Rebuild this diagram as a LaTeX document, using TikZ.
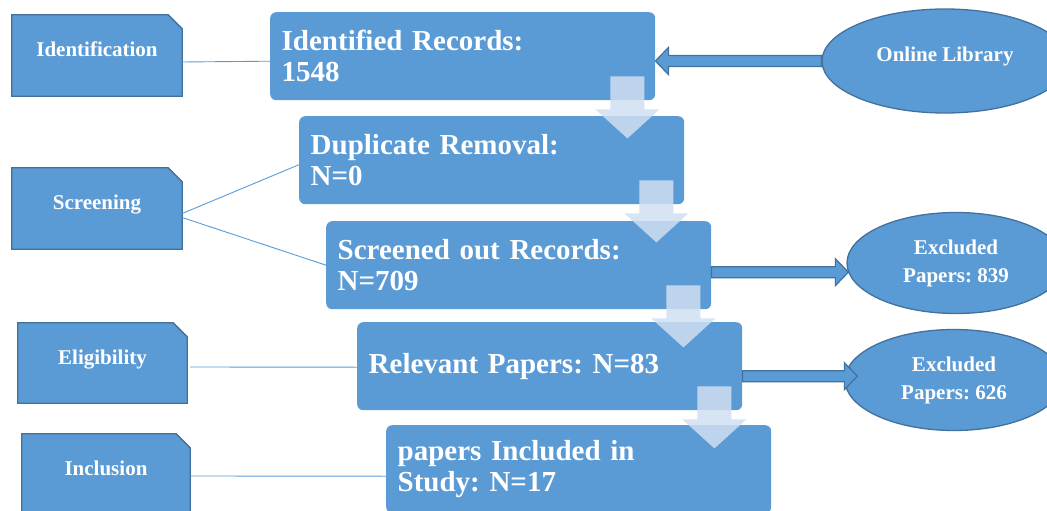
\documentclass[tikz,border=0pt]{standalone}
\usepackage{fontspec}
\setmainfont{Liberation Serif}
\usetikzlibrary{calc,shapes.geometric,backgrounds}
\frenchspacing

\definecolor{boxblue}{HTML}{5B9BD5}
\definecolor{edgeblue}{HTML}{41719C}
\definecolor{flowblue}{HTML}{D0DFF2}

\tikzset{
  stagebox/.style={rectangle, minimum width=170pt, minimum height=81pt, inner sep=0pt,
    text=white, text depth=12pt, font=\bfseries\fontsize{21}{25}\selectfont},
  stageframe/.style={draw=edgeblue, line width=1.3pt, fill=boxblue},
  recbox/.style={rectangle, rounded corners=6pt, fill=boxblue, anchor=north west,
    minimum width=385pt, minimum height=88pt, text width=362pt, inner xsep=11.5pt,
    align=left, text=white, font=\bfseries\fontsize{29}{31}\selectfont},
  srcbox/.style={ellipse, draw=edgeblue, line width=1.3pt, fill=boxblue, text=white,
    align=center, font=\bfseries\fontsize{21}{28}\selectfont},
  link/.style={draw=boxblue, line width=0.9pt},
  blockarrow/.style={draw=edgeblue, line width=1.2pt, fill=boxblue},
  flowarrow/.style={fill=flowblue, fill opacity=0.85},
}

% box with the upper right corner cut off
\newcommand{\snipframe}[1]{%
  \draw[stageframe] (#1.south west) -- (#1.north west) -- ([xshift=-14pt]#1.north east)
    -- ([yshift=-14pt]#1.north east) -- (#1.south east) -- cycle;}

% wide arrow: start, tip, signed head length
\newcommand{\sidearrow}[3]{%
  \draw[blockarrow] let \p1=(#1), \p2=(#2) in
    (\x1,\y1+5.5pt) -- (\x2+#3,\y1+5.5pt) -- (\x2+#3,\y1+13.5pt) -- (\x2,\y1)
    -- (\x2+#3,\y1-13.5pt) -- (\x2+#3,\y1-5.5pt) -- (\x1,\y1-5.5pt) -- cycle;}

% pale arrow down to the next record box
\newcommand{\downflow}[1]{%
  \fill[flowarrow] let \p1=(#1.south east) in
    (\x1-45pt,\y1+24pt) -- (\x1-11pt,\y1+24pt) -- (\x1-11pt,\y1-9pt) -- (\x1+4pt,\y1-9pt)
    -- (\x1-28pt,\y1-38pt) -- (\x1-60pt,\y1-9pt) -- (\x1-45pt,\y1-9pt) -- cycle;}

\begin{document}
\begin{tikzpicture}[x=1pt,y=-1pt]
  \useasboundingbox (0,0) rectangle (1047,511);

  % stages
  \node[stagebox] (ident) at (97,55.5) {Identification};
  \node[stagebox] (screen) at (97,208.5) {Screening};
  \node[stagebox, minimum width=169pt, minimum height=80pt] (elig) at (102.5,363) {Eligibility};
  \node[stagebox, minimum width=168pt, minimum height=80pt] (incl) at (106,474) {Inclusion};

  \begin{pgfonlayer}{background}
    \snipframe{ident}
    \snipframe{screen}
    \snipframe{elig}
    \snipframe{incl}
  \end{pgfonlayer}

  % records
  \node[recbox] (idrec) at (270,12) {Identified Records:\\1548};
  \node[recbox] (dup) at (299,116) {Duplicate Removal:\\N=0};
  \node[recbox] (scr) at (326,221) {Screened out Records:\\N=709};
  \node[recbox] (rel) at (357,322) {Relevant Papers: N=83};
  \node[recbox] (inc) at (386,425) {papers Included in\\Study: N=17};

  % sources and exclusions
  \node[srcbox, minimum width=246pt, minimum height=104pt, text depth=14pt] (lib) at (945,61) {Online Library};
  \node[srcbox, minimum width=218pt, minimum height=101pt] (exc1) at (956,263) {Excluded\\Papers: 839};
  \node[srcbox, minimum width=218pt, minimum height=101pt] (exc2) at (954,380) {Excluded\\Papers: 626};

  \draw[link] ([yshift=-6.5pt]ident.east) -- ([yshift=-5pt]idrec.west);
  \draw[link] ([yshift=-5pt]screen.east) -- ([yshift=-4.5pt]dup.west);
  \draw[link] ([yshift=-9pt]screen.east) -- (scr.west);
  \draw[link] ([xshift=3pt,yshift=-4pt]elig.east) -- ([yshift=-1pt]rel.west);
  \draw[link] ([xshift=1pt,yshift=-2pt]incl.east) -- ([yshift=-7pt]inc.west);

  \coordinate (out1) at ([yshift=-7pt]scr.east);
  \coordinate (in1) at ([xshift=2pt]exc1.west);
  \coordinate (out2) at ([yshift=-10pt]rel.east);
  \coordinate (in2) at ([xshift=13pt]exc2.west);

  \sidearrow{lib.west}{idrec.east |- lib.west}{13pt}
  \sidearrow{out1}{in1 |- out1}{-13pt}
  \sidearrow{out2}{in2 |- out2}{-13pt}

  \downflow{idrec}
  \downflow{dup}
  \downflow{scr}
  \downflow{rel}
\end{tikzpicture}
\end{document}
